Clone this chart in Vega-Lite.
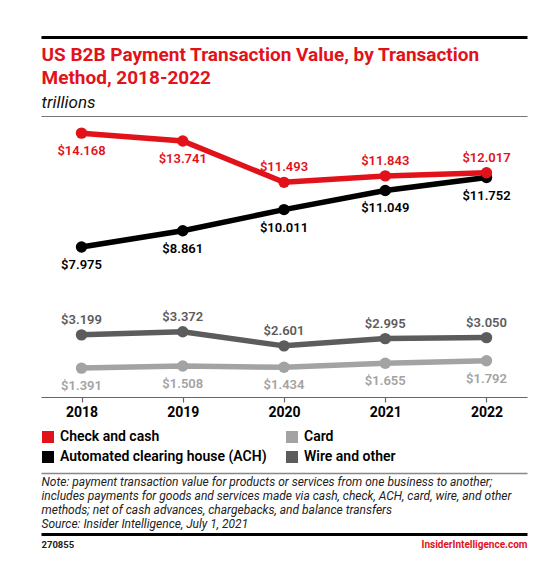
{
  "$schema": "https://vega.github.io/schema/vega-lite/v6.json",
  "autosize": {"type": "none"},
  "padding": {"left": 41, "top": 116, "right": 33, "bottom": 181},
  "width": 486,
  "height": 281,
  "background": "white",
  "config": {
    "view": {"stroke": null},
    "font": "Roboto",
    "axis": {"grid": false, "titleLimit": 2000, "labelFont": "Roboto", "titleFont": "Roboto"}
  },
  "data": {
    "values": [
      {"year": 2018, "method": "Card", "value": 1.391},
      {"year": 2019, "method": "Card", "value": 1.508},
      {"year": 2020, "method": "Card", "value": 1.434},
      {"year": 2021, "method": "Card", "value": 1.655},
      {"year": 2022, "method": "Card", "value": 1.792},
      {"year": 2018, "method": "Wire and other", "value": 3.199},
      {"year": 2019, "method": "Wire and other", "value": 3.372},
      {"year": 2020, "method": "Wire and other", "value": 2.601},
      {"year": 2021, "method": "Wire and other", "value": 2.995},
      {"year": 2022, "method": "Wire and other", "value": 3.050},
      {"year": 2018, "method": "Automated clearing house (ACH)", "value": 7.975},
      {"year": 2019, "method": "Automated clearing house (ACH)", "value": 8.861},
      {"year": 2020, "method": "Automated clearing house (ACH)", "value": 10.011},
      {"year": 2021, "method": "Automated clearing house (ACH)", "value": 11.049},
      {"year": 2022, "method": "Automated clearing house (ACH)", "value": 11.752},
      {"year": 2018, "method": "Check and cash", "value": 14.168},
      {"year": 2019, "method": "Check and cash", "value": 13.741},
      {"year": 2020, "method": "Check and cash", "value": 11.493},
      {"year": 2021, "method": "Check and cash", "value": 11.843},
      {"year": 2022, "method": "Check and cash", "value": 12.017}
    ]
  },
  "resolve": {"axis": {"x": "independent"}},
  "layer": [
    {
      "mark": {"type": "line", "strokeWidth": 5.5},
      "encoding": {
        "x": {
          "field": "year", "type": "quantitative",
          "scale": {"domain": [2017.6, 2022.4], "nice": false, "zero": false},
          "axis": {
            "orient": "bottom", "values": [2018, 2019, 2020, 2021, 2022], "format": "d",
            "title": null, "domainColor": "#666666", "domainWidth": 1.2,
            "tickColor": "#666666", "tickSize": 5, "tickWidth": 1.2,
            "labelFontSize": 14, "labelFontWeight": "bold", "labelColor": "#000000",
            "labelPadding": 3, "labelFlush": false, "labelOverlap": false
          }
        },
        "y": {
          "field": "value", "type": "quantitative",
          "scale": {"domain": [-0.18, 15.1], "nice": false, "zero": false},
          "axis": null
        },
        "color": {
          "field": "method", "type": "nominal",
          "scale": {
            "domain": ["Check and cash", "Card", "Automated clearing house (ACH)", "Wire and other"],
            "range": ["#e2121b", "#a3a3a3", "#000000", "#5c5c5c"]
          },
          "legend": {
            "title": null, "orient": "none", "legendX": 0, "legendY": 314,
            "direction": "horizontal", "columns": 2, "columnPadding": 18, "rowPadding": 6,
            "symbolType": "square", "symbolSize": 144, "symbolStrokeWidth": 0, "symbolOpacity": 1,
            "labelFont": "Roboto", "labelFontSize": 14, "labelFontWeight": 600, "labelColor": "#000000",
            "labelOffset": 5, "labelLimit": 400,
            "encode": {
              "symbols": {
                "update": {
                  "fill": {"scale": "color", "field": "value"},
                  "stroke": {"value": "transparent"},
                  "shape": {"value": "square"},
                  "opacity": {"value": 1}
                }
              }
            }
          }
        },
        "detail": {"field": "method"}
      }
    },
    {
      "mark": {"type": "point", "filled": true, "size": 130, "opacity": 1},
      "encoding": {
        "x": {
          "field": "year", "type": "quantitative",
          "axis": {
            "orient": "top", "offset": 79, "domainColor": "#000000", "domainWidth": 3,
            "ticks": false, "labels": false, "grid": false,
            "title": ["US B2B Payment Transaction Value, by Transaction", "Method, 2018-2022"],
            "titleFont": "Roboto", "titleFontSize": 19, "titleFontWeight": "bold", "titleColor": "#e2121b",
            "titleAlign": "left", "titleBaseline": "alphabetic", "titleX": 0, "titleY": 23.5,
            "titleLineHeight": 22.6, "titleAngle": 0
          }
        },
        "y": {"field": "value", "type": "quantitative", "axis": null},
        "color": {"field": "method", "type": "nominal", "legend": null}
      }
    },
    {
      "transform": [{"filter": "datum.method == 'Wire and other' || (datum.method == 'Check and cash' && datum.year >= 2020)"}],
      "mark": {"type": "text", "dy": -11, "baseline": "alphabetic", "fontSize": 13, "fontWeight": 600, "font": "Roboto"},
      "encoding": {
        "x": {
          "field": "year", "type": "quantitative",
          "axis": {
            "orient": "top", "offset": 0, "domainColor": "#777777", "domainWidth": 1.2,
            "ticks": false, "labels": false, "grid": false,
            "title": "trillions", "titleFont": "Roboto", "titleFontSize": 17, "titleFontWeight": "normal",
            "titleFontStyle": "italic", "titleColor": "#111111",
            "titleAlign": "left", "titleBaseline": "alphabetic", "titleX": 0, "titleY": -8.7, "titleAngle": 0
          }
        },
        "y": {"field": "value", "type": "quantitative", "axis": null},
        "text": {"field": "value", "type": "quantitative", "format": "$.3f"},
        "color": {"field": "method", "type": "nominal", "legend": null}
      }
    },
    {
      "transform": [{"filter": "datum.method == 'Automated clearing house (ACH)' || (datum.method == 'Check and cash' && datum.year < 2020)"}],
      "mark": {"type": "text", "dy": 22, "baseline": "alphabetic", "fontSize": 13, "fontWeight": 600, "font": "Roboto"},
      "encoding": {
        "x": {
          "field": "year", "type": "quantitative",
          "axis": {
            "orient": "bottom", "offset": 76, "domainColor": "#888888", "domainWidth": 1.5,
            "ticks": false, "labels": false, "grid": false,
            "title": [
              "Note: payment transaction value for products or services from one business to another;",
              "includes payments for goods and services made via cash, check, ACH, card, wire, and other",
              "methods; net of cash advances, chargebacks, and balance transfers",
              "Source: Insider Intelligence, July 1, 2021"
            ],
            "titleFont": "Roboto", "titleFontSize": 12, "titleFontWeight": "normal", "titleFontStyle": "italic",
            "titleColor": "#222222", "titleAlign": "left", "titleBaseline": "alphabetic",
            "titleX": 0, "titleY": 12.6, "titleLineHeight": 13.9, "titleAngle": 0
          }
        },
        "y": {"field": "value", "type": "quantitative", "axis": null},
        "text": {"field": "value", "type": "quantitative", "format": "$.3f"},
        "color": {"field": "method", "type": "nominal", "legend": null}
      }
    },
    {
      "transform": [{"filter": "datum.method == 'Card'"}],
      "mark": {"type": "text", "dy": 22, "baseline": "alphabetic", "fontSize": 13, "fontWeight": 600, "font": "Roboto"},
      "encoding": {
        "x": {
          "field": "year", "type": "quantitative",
          "axis": {
            "orient": "bottom", "offset": 137, "domainColor": "#000000", "domainWidth": 3,
            "ticks": false, "tickSize": 0, "grid": false,
            "values": [2022.4], "labelExpr": "'InsiderIntelligence.com'",
            "labelAlign": "right", "labelBaseline": "alphabetic", "labelPadding": 13,
            "labelColor": "#e2121b", "labelFontSize": 10, "labelFontWeight": "bold",
            "labelFlush": false, "labelOverlap": false, "labelBound": false,
            "title": "270855", "titleFont": "Roboto", "titleFontSize": 9.5, "titleFontWeight": "bold",
            "titleColor": "#222222", "titleAlign": "left", "titleBaseline": "alphabetic",
            "titleX": 0, "titleY": 13.4, "titleAngle": 0
          }
        },
        "y": {"field": "value", "type": "quantitative", "axis": null},
        "text": {"field": "value", "type": "quantitative", "format": "$.3f"},
        "color": {"field": "method", "type": "nominal", "legend": null}
      }
    }
  ]
}
